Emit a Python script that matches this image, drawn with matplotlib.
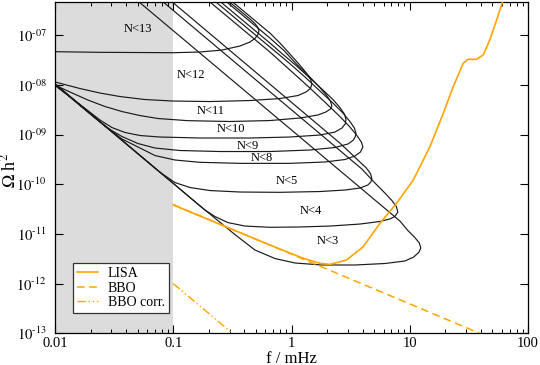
import numpy as np
import matplotlib
matplotlib.use("Agg")
import matplotlib.pyplot as plt
from matplotlib.ticker import FuncFormatter, FixedLocator, LogLocator, NullLocator

plt.rcParams['font.family'] = ['Liberation Serif', 'DejaVu Serif']
plt.rcParams['mathtext.fontset'] = 'stix'

# --- loops: frequency (mHz) / Omega h^2, read along lower branch -> nose -> upper branch ---
n13_f = [0.01, 0.024, 0.0994, 0.168, 0.258, 0.366, 0.445, 0.490, 0.520, 0.530, 0.520, 0.490, 0.445, 0.226]
n13_om = [4.64e-8, 4.51e-8, 4.43e-8, 4.57e-8, 5.01e-8, 6.04e-8, 7.26e-8, 8.54e-8, 1.03e-7, 1.21e-7,
          1.42e-7, 1.71e-7, 2.11e-7, 8.08e-7]

n12_f = [0.01, 0.01215, 0.01627, 0.02401, 0.03543, 0.05764, 0.0994, 0.2042, 0.4448, 0.798, 1.133, 1.324,
         1.445, 1.488, 1.445, 1.324, 1.155, 0.9694, 0.798, 0.6567, 0.2405]
n12_om = [1.14e-8, 1.01e-8, 8.42e-9, 6.84e-9, 5.81e-9, 5.06e-9, 4.72e-9, 4.61e-9, 4.83e-9, 5.30e-9, 6.09e-9,
          7.16e-9, 8.42e-9, 1.04e-8, 1.31e-8, 1.77e-8, 2.62e-8, 4.17e-8, 6.94e-8, 1.10e-7, 8.08e-7]

n11_f = [0.01, 0.01339, 0.01901, 0.02646, 0.03684, 0.05231, 0.07425, 0.1331, 0.3015, 0.6567, 1.178, 1.672,
         1.953, 2.133, 2.196, 2.133, 1.953, 1.704, 1.403, 1.111, 0.8628, 0.6567, 0.2140]
n11_om = [9.91e-9, 7.16e-9, 4.94e-9, 3.66e-9, 2.90e-9, 2.41e-9, 2.10e-9, 1.90e-9, 1.83e-9, 1.91e-9, 2.15e-9,
          2.47e-9, 2.84e-9, 3.26e-9, 3.75e-9, 4.72e-9, 6.38e-9, 9.24e-9, 1.50e-8, 2.56e-8, 4.90e-8, 8.74e-8,
          8.08e-7]

n10_f = [0.01, 0.01627, 0.02401, 0.03032, 0.03905, 0.05231, 0.0772, 0.1682, 0.4448, 0.9694, 1.739, 2.328,
         2.668, 2.856, 2.884, 2.801, 2.566, 2.239, 1.843, 1.431, 1.069, 0.8297, 0.6567, 0.1905]
n10_om = [9.68e-9, 4.02e-9, 1.96e-9, 1.38e-9, 1.10e-9, 9.55e-10, 8.91e-10, 8.51e-10, 8.51e-10, 8.91e-10,
          9.77e-10, 1.12e-9, 1.35e-9, 1.66e-9, 2.05e-9, 2.58e-9, 3.49e-9, 5.06e-9, 7.86e-9, 1.37e-8, 2.56e-8,
          4.26e-8, 6.94e-8, 8.08e-7]

n9_f = [0.01, 0.02178, 0.02917, 0.03684, 0.0503, 0.07004, 0.1139, 0.2481, 0.6567, 1.431, 2.328, 2.998,
        3.337, 3.469, 3.503, 3.402, 3.117, 2.720, 2.239, 1.739, 1.298, 0.9324, 0.6567, 0.1734]
n9_om = [1.01e-8, 2.15e-9, 1.26e-9, 9.12e-10, 6.59e-10, 5.35e-10, 4.77e-10, 4.55e-10, 4.55e-10, 4.88e-10,
         5.48e-10, 6.44e-10, 7.75e-10, 9.12e-10, 1.07e-9, 1.35e-9, 1.83e-9, 2.71e-9, 4.30e-9, 7.50e-9,
         1.44e-8, 2.88e-8, 5.76e-8, 8.08e-7]

n8_f = [0.01, 0.02646, 0.03684, 0.0503, 0.07004, 0.1034, 0.1682, 0.3664, 0.9694, 1.916, 2.828, 3.436,
        3.824, 4.014, 3.899, 3.572, 3.117, 2.566, 1.953, 1.431, 0.9694, 0.6567, 0.1543]
n8_om = [1.04e-8, 1.48e-9, 8.12e-10, 5.61e-10, 3.78e-10, 3.07e-10, 2.76e-10, 2.63e-10, 2.63e-10, 2.80e-10,
         3.14e-10, 3.69e-10, 4.44e-10, 5.61e-10, 7.06e-10, 9.55e-10, 1.42e-9, 2.30e-9, 4.30e-9, 8.62e-9,
         1.99e-8, 4.57e-8, 8.08e-7]

n5_f = [0.01, 0.0772, 0.1034, 0.1384, 0.2042, 0.3664, 0.798, 1.74, 2.83, 3.79, 4.42, 4.69, 4.78, 4.65,
        4.26, 3.71, 3.12, 2.56, 0.0669]
n5_om = [1.04e-8, 1.74e-10, 1.08e-10, 8.59e-11, 7.46e-11, 6.97e-11, 6.87e-11, 7.13e-11, 7.64e-11, 8.39e-11,
         9.64e-11, 1.11e-10, 1.30e-10, 1.64e-10, 2.17e-10, 2.93e-10, 4.35e-10, 6.75e-10, 1.0e-6]

n4_f = [0.01, 0.1384, 0.1854, 0.2252, 0.290, 0.404, 0.657, 1.18, 2.11, 3.79, 5.59, 6.79, 7.48, 7.93, 7.70,
        7.06, 6.16, 5.07, 3.94, 0.056]
n4_om = [1.04e-8, 5.42e-11, 3.03e-11, 2.24e-11, 1.69e-11, 1.44e-11, 1.36e-11, 1.38e-11, 1.44e-11, 1.58e-11,
         1.78e-11, 2.0e-11, 2.24e-11, 2.76e-11, 3.56e-11, 4.70e-11, 6.65e-11, 1.06e-10, 2.02e-10, 1.0e-6]

n3_f = [0.01, 0.168, 0.332, 0.491, 0.724, 1.068, 1.81, 3.44, 6.16, 9.09, 10.8, 11.9, 12.4, 12.05, 11.04,
        9.64, 8.25, 0.035]
n3_om = [1.04e-8, 3.67e-11, 9.73e-12, 4.74e-12, 3.20e-12, 2.60e-12, 2.37e-12, 2.37e-12, 2.54e-12, 2.85e-12,
         3.43e-12, 4.23e-12, 5.2e-12, 6.56e-12, 8.47e-12, 1.17e-11, 1.82e-11, 1.0e-6]

# loop labels
label_text = ['N<13', 'N<12', 'N<11', 'N<10', 'N<9', 'N<8', 'N<5', 'N<4', 'N<3']
label_f = [0.0503, 0.141, 0.208, 0.307, 0.428, 0.562, 0.914, 1.459, 2.03]
label_om = [1.33e-7, 1.575e-8, 2.97e-9, 1.29e-9, 5.87e-10, 3.37e-10, 1.16e-10, 2.89e-11, 7.2e-12]

# sensitivity curves
lisa_f = [0.1, 0.657, 1.256, 1.739, 2.112, 2.92, 4.04, 5.59, 7.73, 10.7, 14.8, 19.2, 23.3, 28.3, 31.2,
          36.7, 41.7, 47.5, 54.2, 61.6]
lisa_om = [3.82e-11, 5.98e-12, 3.23e-12, 2.56e-12, 2.44e-12, 2.99e-12, 5.53e-12, 1.63e-11, 4.13e-11,
           1.21e-10, 5.68e-10, 2.67e-9, 9.16e-9, 2.71e-8, 3.26e-8, 3.26e-8, 3.98e-8, 7.97e-8, 2.01e-7, 5.09e-7]
bbo_f = [0.1, 39.1]
bbo_om = [3.9e-11, 1.0e-13]
bbo_corr_f = [0.1, 0.4]
bbo_corr_om = [1.0e-12, 6.25e-14]

y_ticks = [1e-13, 1e-12, 1e-11, 1e-10, 1e-9, 1e-8, 1e-7]

orange = '#ffa500'

fig = plt.figure(figsize=(5.4, 3.65), dpi=100)
ax = fig.add_axes([0.1019, 0.0868, 0.8759, 0.9077])

ax.axvspan(0.01, 0.1, color='#dcdcdc', lw=0, zorder=0)

loops = [(n13_f, n13_om), (n12_f, n12_om), (n11_f, n11_om), (n10_f, n10_om), (n9_f, n9_om),
         (n8_f, n8_om), (n5_f, n5_om), (n4_f, n4_om), (n3_f, n3_om)]
for f, om in loops:
    ax.plot(f, om, color='#1a1a1a', lw=0.85, zorder=2)

for t, f, om in zip(label_text, label_f, label_om):
    ax.text(f, om, t, fontsize=9, ha='center', va='center', zorder=3)

ax.plot(bbo_f, bbo_om, color=orange, lw=1.1, ls=(0, (5, 3)), label='BBO', zorder=3)
ax.plot(bbo_corr_f, bbo_corr_om, color=orange, lw=1.0, ls=(0, (6, 2, 1, 2, 1, 2)), label='BBO corr.',
        zorder=3)
ax.plot(lisa_f, lisa_om, color=orange, lw=1.2, label='LISA', zorder=4)

ax.set_xscale('log')
ax.set_yscale('log')
ax.set_xlim(0.01, 100)
ax.set_ylim(1e-13, 4.64e-7)

ax.xaxis.set_major_formatter(FuncFormatter(lambda v, p: '%g' % v))
ax.xaxis.set_minor_locator(LogLocator(base=10, subs=np.arange(2, 10)))
ax.yaxis.set_major_locator(FixedLocator(y_ticks))
ax.yaxis.set_major_formatter(FuncFormatter(lambda v, p: r'$10^{\text{-%02d}}$' % round(-np.log10(v))))
ax.yaxis.set_minor_locator(NullLocator())
ax.tick_params(which='both', direction='in', top=True, right=True)
ax.tick_params(which='major', length=6, width=0.8, labelsize=10.5)
ax.tick_params(axis='x', which='major', pad=3)
ax.tick_params(axis='y', which='major', pad=6)
ax.tick_params(which='minor', length=3, width=0.7)
for s in ax.spines.values():
    s.set_linewidth(0.9)

ax.set_xlabel('f / mHz', fontsize=12)
ax.xaxis.set_label_coords(0.5, -0.052)
ax.set_ylabel(r'$\Omega$ h$^2$', fontsize=13)
ax.yaxis.set_label_coords(-0.075, 0.493)

h, l = ax.get_legend_handles_labels()
order = [2, 0, 1]
leg = ax.legend([h[i] for i in order], [l[i] for i in order], loc='lower left',
                bbox_to_anchor=(0.038, 0.061), fontsize=10, frameon=True, fancybox=False,
                edgecolor='#333333', framealpha=1, borderpad=0.3, labelspacing=0.1,
                handlelength=1.5, handletextpad=0.7, borderaxespad=0)
leg.get_frame().set_linewidth(0.9)

fig.savefig('out.png', dpi=100)
